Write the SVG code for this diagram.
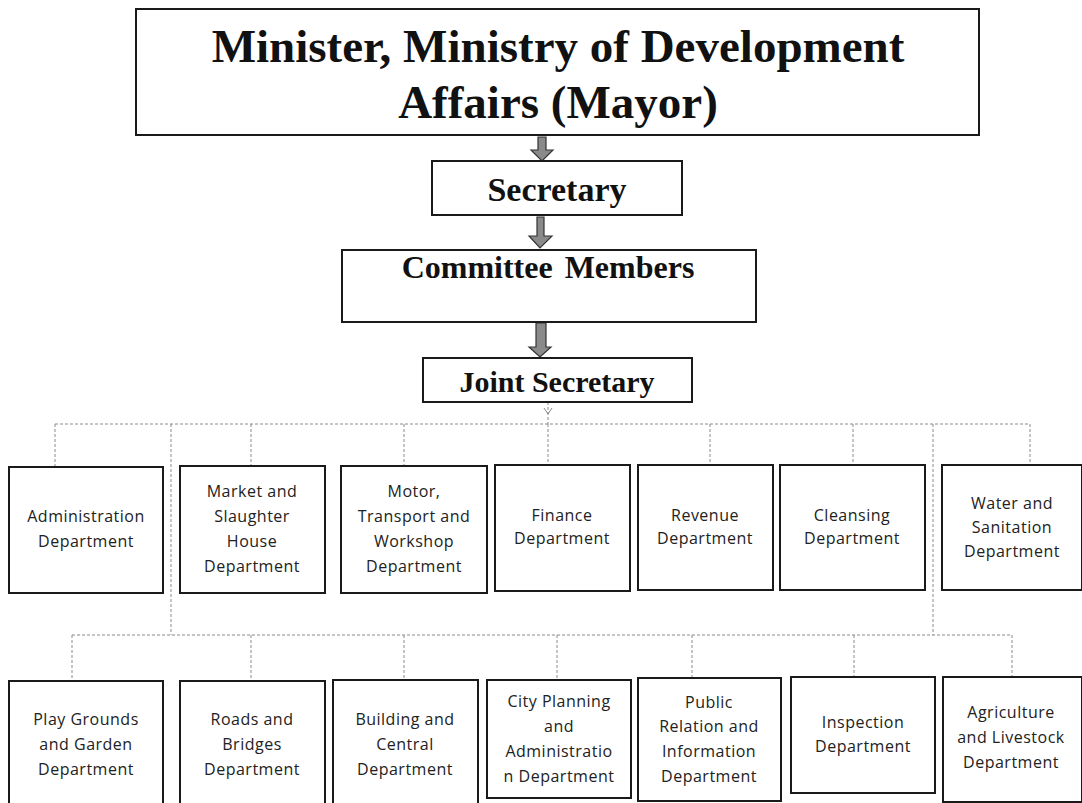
<svg xmlns="http://www.w3.org/2000/svg" width="1082" height="803" viewBox="0 0 1082 803">
<style>
.box{fill:#fff;stroke:#1a1a1a;stroke-width:2}
.hd{font-family:"Liberation Serif",serif;font-weight:bold;fill:#111;text-anchor:middle}
.dp{font-family:"Open Sans",sans-serif;font-size:16px;letter-spacing:0.5px;fill:#222;text-anchor:middle}
.dash{fill:none;stroke:#8a8a8a;stroke-width:1;stroke-dasharray:3 2}
.arr{fill:#8a8a8a;stroke:#333;stroke-width:1.2}
</style>
<rect width="1082" height="803" fill="#fff"/>
<g id="connectors">
<polygon class="arr" points="538,137 546,137 546,150 553,150 542,161 531,150 538,150"/>
<polygon class="arr" points="537,217 544,217 544,236 552,236 540,248 529,236 537,236"/>
<polygon class="arr" points="536,323 546,323 546,347 551,347 540,357 529,347 536,347"/>
<line class="dash" x1="548" y1="402" x2="548" y2="424"/>
<polyline fill="none" stroke="#8a8a8a" stroke-width="1" points="544,408 548,414 552,408"/>
<line class="dash" x1="55" y1="424" x2="1030" y2="424"/>
<line class="dash" x1="55" y1="424" x2="55" y2="468"/>
<line class="dash" x1="251" y1="424" x2="251" y2="467"/>
<line class="dash" x1="404" y1="424" x2="404" y2="467"/>
<line class="dash" x1="548" y1="424" x2="548" y2="466"/>
<line class="dash" x1="710" y1="424" x2="710" y2="465"/>
<line class="dash" x1="853" y1="424" x2="853" y2="465"/>
<line class="dash" x1="1030" y1="424" x2="1030" y2="465"/>
<line class="dash" x1="171" y1="424" x2="171" y2="635"/>
<line class="dash" x1="933" y1="424" x2="933" y2="635"/>
<line class="dash" x1="72" y1="635" x2="1012" y2="635"/>
<line class="dash" x1="72" y1="635" x2="72" y2="681"/>
<line class="dash" x1="251" y1="635" x2="251" y2="681"/>
<line class="dash" x1="404" y1="635" x2="404" y2="681"/>
<line class="dash" x1="557" y1="635" x2="557" y2="680"/>
<line class="dash" x1="692" y1="635" x2="692" y2="679"/>
<line class="dash" x1="854" y1="635" x2="854" y2="678"/>
<line class="dash" x1="1012" y1="635" x2="1012" y2="678"/>
</g>
<g id="mayor">
<rect class="box" x="136" y="9" width="843" height="126"/>
<text class="hd" x="558" y="62" font-size="47">Minister, Ministry of Development</text>
<text class="hd" x="558" y="118" font-size="47">Affairs (Mayor)</text>
</g>
<g id="secretary">
<rect class="box" x="432" y="161" width="250" height="54"/>
<text class="hd" x="557" y="201" font-size="34">Secretary</text>
</g>
<g id="committee">
<rect class="box" x="342" y="250" width="414" height="72"/>
<text class="hd" x="548" y="278" font-size="32" word-spacing="4">Committee Members</text>
</g>
<g id="joint">
<rect class="box" x="423" y="358" width="269" height="44"/>
<text class="hd" x="557" y="392" font-size="30">Joint Secretary</text>
</g>
<g id="admin">
<rect class="box" x="9" y="467" width="154" height="126"/>
<text class="dp" x="86" y="522">Administration</text>
<text class="dp" x="86" y="547">Department</text>
</g>
<g id="market">
<rect class="box" x="180" y="466" width="145" height="127"/>
<text class="dp" x="252" y="497">Market and</text>
<text class="dp" x="252" y="522">Slaughter</text>
<text class="dp" x="252" y="547">House</text>
<text class="dp" x="252" y="572">Department</text>
</g>
<g id="motor">
<rect class="box" x="341" y="466" width="146" height="127"/>
<text class="dp" x="414" y="497">Motor,</text>
<text class="dp" x="414" y="522">Transport and</text>
<text class="dp" x="414" y="547">Workshop</text>
<text class="dp" x="414" y="572">Department</text>
</g>
<g id="finance">
<rect class="box" x="495" y="465" width="135" height="126"/>
<text class="dp" x="562" y="521">Finance</text>
<text class="dp" x="562" y="544">Department</text>
</g>
<g id="revenue">
<rect class="box" x="638" y="465" width="135" height="125"/>
<text class="dp" x="705" y="521">Revenue</text>
<text class="dp" x="705" y="544">Department</text>
</g>
<g id="cleansing">
<rect class="box" x="780" y="465" width="145" height="125"/>
<text class="dp" x="852" y="521">Cleansing</text>
<text class="dp" x="852" y="544">Department</text>
</g>
<g id="water">
<rect class="box" x="942" y="465" width="140" height="125"/>
<text class="dp" x="1012" y="509">Water and</text>
<text class="dp" x="1012" y="533">Sanitation</text>
<text class="dp" x="1012" y="557">Department</text>
</g>
<g id="playgrounds">
<rect class="box" x="9" y="681" width="154" height="125"/>
<text class="dp" x="86" y="725">Play Grounds</text>
<text class="dp" x="86" y="750">and Garden</text>
<text class="dp" x="86" y="775">Department</text>
</g>
<g id="roads">
<rect class="box" x="180" y="681" width="145" height="125"/>
<text class="dp" x="252" y="725">Roads and</text>
<text class="dp" x="252" y="750">Bridges</text>
<text class="dp" x="252" y="775">Department</text>
</g>
<g id="building">
<rect class="box" x="333" y="680" width="145" height="126"/>
<text class="dp" x="405" y="725">Building and</text>
<text class="dp" x="405" y="750">Central</text>
<text class="dp" x="405" y="775">Department</text>
</g>
<g id="cityplanning">
<rect class="box" x="487" y="680" width="144" height="118"/>
<text class="dp" x="559" y="707">City Planning</text>
<text class="dp" x="559" y="732">and</text>
<text class="dp" x="559" y="757">Administratio</text>
<text class="dp" x="559" y="782">n Department</text>
</g>
<g id="public">
<rect class="box" x="638" y="678" width="143" height="123"/>
<text class="dp" x="709" y="708">Public</text>
<text class="dp" x="709" y="732">Relation and</text>
<text class="dp" x="709" y="757">Information</text>
<text class="dp" x="709" y="782">Department</text>
</g>
<g id="inspection">
<rect class="box" x="791" y="677" width="144" height="116"/>
<text class="dp" x="863" y="728">Inspection</text>
<text class="dp" x="863" y="752">Department</text>
</g>
<g id="agriculture">
<rect class="box" x="943" y="677" width="139" height="125"/>
<text class="dp" x="1011" y="718">Agriculture</text>
<text class="dp" x="1011" y="743">and Livestock</text>
<text class="dp" x="1011" y="768">Department</text>
</g>
</svg>
